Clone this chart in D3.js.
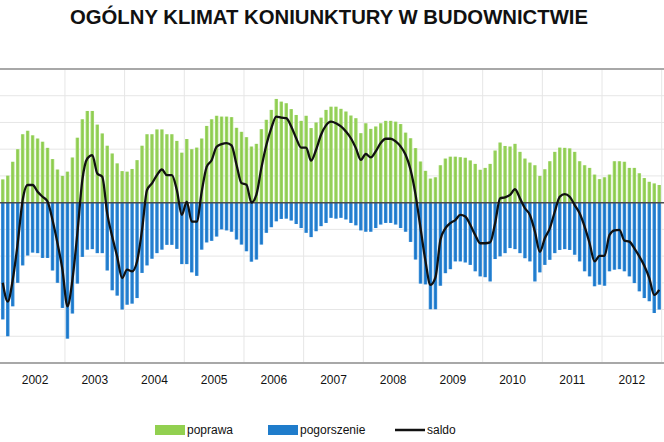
<!DOCTYPE html>
<html>
<head>
<meta charset="utf-8">
<script src="https://cdn.jsdelivr.net/npm/d3@7"></script>
<style>
  body { margin: 0; background: #fff; }
  svg { display: block; font-family: "Liberation Sans", Arial, sans-serif; }
  .narrow { font-family: "Liberation Sans Narrow", "Liberation Sans", Arial, sans-serif; }
</style>
</head>
<body>
<div id="chart"></div>
<script>
// ---- data: monthly, Dec 2001 .. Dec 2012 (percent of answers) ----
const years = ["2002", "2003", "2004", "2005", "2006", "2007", "2008", "2009", "2010", "2011", "2012"];

// green bars, above zero
const poprawa = [
  8.7, 10.1, 15.3, 20, 25.6, 26.9, 25.2, 24, 22.8, 20.5, 16.3, 12.4, 10,
  11.6, 16.9, 24.3, 31.2, 34.3, 34.3, 29.2, 25.9, 21.3, 18.4, 14.7, 11.8,
  11.6, 12.6, 15.9, 21.3, 25.6, 25.6, 27.4, 27.4, 25.6, 25.6, 23.1, 18.7,
  23.8, 20, 20.6, 24, 28.7, 31.2, 32.5,
  32.2, 32.2, 32, 28, 26.5, 24.5, 21, 22, 27.5, 31, 34.7, 38.8, 37.8, 37.2,
  35, 32.8, 30.6, 32.5, 27.9, 30, 31.8, 34.7,
  35.9, 35.9, 35.1, 34.1, 32.6, 31.6, 26, 29.7, 27.6, 28.5, 29.7, 30.6, 30.6,
  30.3, 29.4, 26.2, 24.1, 20.4, 15.4, 11.9, 9, 9.5,
  14, 16.5, 17.2, 17.2, 17, 16.8, 15.8, 14.5, 12.3, 13, 14.5, 19.5, 22.5,
  21.2, 21, 22, 19, 16.5, 15, 14, 10, 12.5, 15.5, 19, 20.6, 20.5, 20.3, 19,
  15.5, 14, 13, 10.5, 8.8, 9.5, 10.5, 15.5, 15.5, 15.3, 13, 13, 11, 9.2,
  7.8, 7.2, 6.6
];

// blue bars, below zero
const pogorszenie = [
  -43.7, -50, -38.8, -30, -23.5, -19.8, -18.7, -18.9, -20.7, -20.7, -25.4,
  -30, -39.4, -50.9, -41.5, -30.3, -20.3, -17.6, -17.4, -18.9, -18.9, -25.4,
  -32.8, -34.8, -40, -38.2, -37.8, -35.7, -26.3, -23.5, -21, -18.9, -17.6,
  -15.8, -15.8, -17.3, -23, -23, -26.1, -27.4, -17.6, -14.9, -14.3, -12.7,
  -10, -10.4, -10.9, -13.8, -15.7, -18.2, -22.1, -21.3, -15.7, -11.3, -9.2,
  -7, -6.1, -6, -6.7, -8, -9.5, -11.3, -12.9, -10.7, -8.8, -7.6,
  -5.7, -6, -5.7, -6.3, -7.6, -8.5, -10.4, -10.9, -10.9, -9.5, -8.2, -7.6,
  -7.6, -8.2, -9.5, -10.9, -14.7, -21.3, -30.3, -30.6, -39.9, -39.9,
  -31.1, -26.4, -24.9, -22, -22, -22.4, -23.3, -25.7, -27.6, -27.9, -29.5,
  -21.1, -20.1, -18.9, -17, -17.4, -18.9, -20.8, -22, -29.5, -26.1, -23.3,
  -21.4, -18.9, -17.7, -17.4, -17.7, -19.5, -22, -25.7, -27.6, -31.3, -30.7,
  -31.1, -25.7, -25.1, -24.9, -25.7, -27.6, -30.1, -33.2, -35.7, -36.9,
  -41.3, -40
];

// black line
const saldo = [
  -30, -37, -28.9, -15.2, 1, 6.6, 6.6, 4.1, 2.2, 0.4, -6.5, -15.2, -25.1,
  -38.8, -28.9, -11.4, 8.5, 16.5, 17.8, 10.9, 9.7, -4, -12.7, -20.2, -28.2,
  -25.1, -25.7, -22, -10.2, 4.7, 7.2, 10.3, 12.4, 10.3, 10.3, 4.7, -4.6,
  0.4, -7.1, -7.1, 4.1, 13.4, 15.9, 20.9,
  21.9, 22.3, 21.4, 14.2, 7.3, 6.7, 0, 3, 13, 21.6, 27.9, 32.2, 31.8, 31.6,
  28.5, 24.1, 20.6, 20.6, 15.7, 19.8, 25.4, 28.9,
  30.3, 29.7, 28.5, 26.6, 24.1, 20.4, 16, 18.2, 16.9, 19.2, 22.3, 23.9, 23.9,
  22.9, 21, 17.9, 12.3, 3, -9.5, -21.9, -30.8, -28,
  -14, -9.6, -7.7, -6.5, -4.6, -5.2, -8.3, -12.1, -15.2, -15.2, -14.9, -7.7,
  1.6, 2, 2.9, 5, 1.6, -2.1, -4.6, -10.8, -18.4, -13.3, -9.6, -3.4, 2.2,
  3.2, 2.2, -0.9, -4, -9, -15.2, -22, -19.9, -19.9, -12.1, -10.4, -10.2,
  -14.2, -14.6, -17.1, -20.1, -23.6, -28.2, -34.5, -32.6
];

const legendNames = ["poprawa", "pogorszenie", "saldo"];

// ---- setup ----
const width = 664, height = 442;
const months = d3.range(poprawa.length);   // 0 = XII 2001

const svg = d3.select('#chart').append('svg')
    .attr('width', width).attr('height', height);

const defs = svg.append('defs');
function barGradient(id, edge, mid) {
    const g = defs.append('linearGradient').attr('id', id)
        .attr('x1', 0).attr('x2', 1).attr('y1', 0).attr('y2', 0);
    g.append('stop').attr('offset', '0%').attr('stop-color', edge);
    g.append('stop').attr('offset', '50%').attr('stop-color', mid);
    g.append('stop').attr('offset', '100%').attr('stop-color', edge);
}
barGradient('gGreen', '#a9db78', '#8ccb4c');
barGradient('gBlue', '#3f93dc', '#1a76c8');

const x = d3.scaleBand().domain(months)
    .range([0.3, 661.7]).paddingInner(0.3).paddingOuter(0.15);
const y = d3.scaleLinear().domain([-60, 50]).range([363, 69]);

// year bands start at January 2002 (index 1)
const edge = i => x(i) - x.step() * x.paddingInner() / 2;
const yearX = d3.scaleBand().domain(years).range([edge(1), edge(months.length - 1) + x.step()]);

// ---- grid ----
svg.append('g').selectAll('line.h')
    .data(y.ticks(11).filter(t => t > -60 && t < 50))
    .join('line')
    .attr('x1', 0).attr('x2', width)
    .attr('y1', d => y(d)).attr('y2', d => y(d))
    .attr('stroke', '#e6e6e6').attr('stroke-width', 1);

svg.append('g').selectAll('line.v')
    .data(years.slice(1).map(d => yearX(d)).concat([yearX.range()[1]]))
    .join('line')
    .attr('x1', d => d).attr('x2', d => d)
    .attr('y1', y(50)).attr('y2', y(-60))
    .attr('stroke', '#e6e6e6').attr('stroke-width', 1);

// ---- bars ----
svg.append('g').selectAll('rect')
    .data(poprawa)
    .join('rect')
    .attr('x', (d, i) => x(i))
    .attr('width', x.bandwidth())
    .attr('y', d => y(d))
    .attr('height', d => y(0) - y(d))
    .attr('fill', 'url(#gGreen)');

svg.append('g').selectAll('rect')
    .data(pogorszenie)
    .join('rect')
    .attr('x', (d, i) => x(i))
    .attr('width', x.bandwidth())
    .attr('y', y(0))
    .attr('height', d => y(d) - y(0))
    .attr('fill', 'url(#gBlue)');

// zero line
svg.append('line')
    .attr('x1', 0).attr('x2', width)
    .attr('y1', y(0)).attr('y2', y(0))
    .attr('stroke', '#4d4d4d').attr('stroke-width', 1.5);

// saldo line
const line = d3.line()
    .x((d, i) => x(i) + x.bandwidth() / 2)
    .y(d => y(d))
    .curve(d3.curveMonotoneX);

svg.append('path')
    .datum(saldo)
    .attr('d', line)
    .attr('fill', 'none')
    .attr('stroke', '#111')
    .attr('stroke-width', 2.3)
    .attr('stroke-linejoin', 'round');

// top & bottom frame lines
[50, -60].forEach(v => {
    svg.append('line')
        .attr('x1', 0).attr('x2', width)
        .attr('y1', y(v)).attr('y2', y(v))
        .attr('stroke', '#a8a8a8').attr('stroke-width', 2);
});

// ---- year axis ----
const axis = svg.append('g')
    .attr('transform', `translate(0,${y(-60)})`)
    .call(d3.axisBottom(yearX).tickSize(0).tickPadding(12));
axis.select('.domain').remove();
axis.selectAll('text')
    .attr('class', 'narrow')
    .attr('font-size', 12)
    .attr('fill', '#111');

// ---- title ----
svg.append('text')
    .attr('x', 329).attr('y', 24)
    .attr('text-anchor', 'middle')
    .attr('font-size', 20)
    .attr('font-weight', 'bold')
    .attr('textLength', 518)
    .attr('lengthAdjust', 'spacingAndGlyphs')
    .attr('fill', '#111')
    .text('OGÓLNY KLIMAT KONIUNKTURY W BUDOWNICTWIE');

// ---- legend ----
const legend = svg.append('g').attr('class', 'narrow');
const legendX = [155, 268, 395];
legendNames.forEach((name, i) => {
    const g = legend.append('g').attr('transform', `translate(${legendX[i]},430)`);
    if (i < 2) {
        g.append('rect').attr('x', 0).attr('y', -5).attr('width', 30).attr('height', 10)
            .attr('fill', i === 0 ? '#92d050' : '#1f7ccb');
    } else {
        g.append('line').attr('x1', 0).attr('x2', 30).attr('y1', 0).attr('y2', 0)
            .attr('stroke', '#111').attr('stroke-width', 2.5);
    }
    g.append('text').attr('x', 32).attr('y', 4)
        .attr('font-size', 12).attr('fill', '#111')
        .text(name);
});
</script>
</body>
</html>
